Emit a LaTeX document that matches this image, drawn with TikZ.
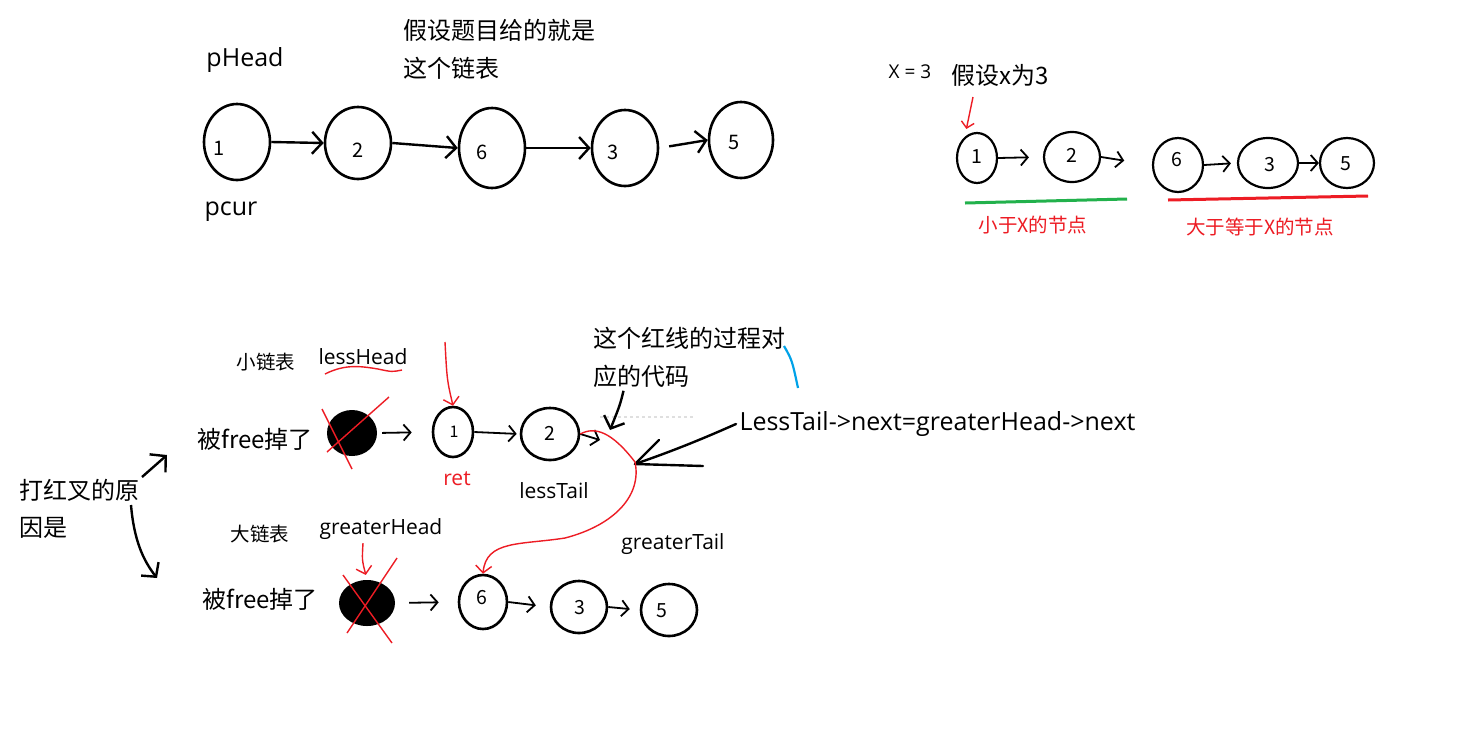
\documentclass[tikz,border=0pt]{standalone}
\usepackage{fontspec}
\setmainfont{Noto Sans CJK SC}
\newfontfamily\latinfont{Open Sans}
\usepackage{xcolor}
\usetikzlibrary{arrows.meta, shapes.geometric}
\definecolor{paintred}{RGB}{237,28,36}
\definecolor{paintgreen}{RGB}{34,177,76}
\definecolor{paintblue}{RGB}{0,162,232}

\begin{document}
\begin{tikzpicture}[x=1pt, y=-1pt,
  ring/.style={draw, ellipse, line width=2.6pt, inner sep=0pt},
  freed/.style={ellipse, fill=black, inner sep=0pt},
  big/.style={font=\fontsize{24}{28}\selectfont},
  mid/.style={font=\fontsize{19.5}{23}\selectfont},
  bigl/.style={font=\latinfont\fontsize{25}{29}\selectfont},
  midl/.style={font=\latinfont\fontsize{21}{25}\selectfont},
  num/.style={font=\fontsize{20}{24}\selectfont},
  link/.style={-{Straight Barb[length=10pt, width=22pt]}, line width=2.4pt},
  thinlink/.style={-{Straight Barb[length=7pt, width=16pt]}, line width=1.8pt},
  redpen/.style={paintred, line width=1.4pt}]
\fill[white] (0,0) rectangle (1483,732);
\useasboundingbox (0,0) rectangle (1483,732);

% the given list
\node[bigl] (phead) at (245,60) {pHead};
\node[bigl] (pcur) at (231,212) {pcur};
\node[big, anchor=west] (given1) at (400,30) {假设题目给的就是};
\node[big, anchor=west] (given2) at (400,68) {这个链表};
\node[ring, minimum width=66pt, minimum height=76pt] (a1) at (237,142) {};
\node[ring, minimum width=66pt, minimum height=72pt] (a2) at (358,143) {};
\node[ring, minimum width=66pt, minimum height=80pt] (a6) at (492,148) {};
\node[ring, minimum width=66pt, minimum height=76pt] (a3) at (625,148) {};
\node[ring, minimum width=64pt, minimum height=76pt] (a5) at (741,140) {};
\node[num] (a1n) at (219,148) {1};
\node[num] (a2n) at (358,150) {2};
\node[num] (a6n) at (482,152) {6};
\node[num] (a3n) at (613,152) {3};
\node[num] (a5n) at (734,142) {5};
\draw[link] (a1.east) -- (a2.west);
\draw[link] (a2.east) -- (a6.west);
\draw[link] (a6.east) -- (a3.west);
\draw[link, shorten <=10pt] (a3.east) -- (a5.west);

% split by x
\node[font=\latinfont\fontsize{19}{23}\selectfont] (xeq) at (910,72) {X = 3};
\node[big] (xnote) at (1000,75) {假设x为3};
\node[ring, line width=2.2pt, minimum width=40pt, minimum height=50pt] (b1) at (977,158) {};
\node[ring, line width=2.2pt, minimum width=56pt, minimum height=50pt] (b2) at (1072,157) {};
\node[ring, line width=2.2pt, minimum width=50pt, minimum height=54pt] (b6) at (1178,165) {};
\node[ring, line width=2.2pt, minimum width=60pt, minimum height=50pt] (b3) at (1268,163) {};
\node[ring, line width=2.2pt, minimum width=54pt, minimum height=50pt] (b5) at (1347,163) {};
\node[mid] (b1n) at (977,157) {1};
\node[mid] (b2n) at (1072,155) {2};
\node[mid] (b6n) at (1177,160) {6};
\node[mid] (b3n) at (1270,165) {3};
\node[mid] (b5n) at (1346,164) {5};
\draw[thinlink, shorten >=14pt] (b1.east) -- (b2.west);
\draw[thinlink, shorten >=28pt] (b2.east) -- (b6.west);
\draw[thinlink, shorten >=6pt] (b6.east) -- (b3.west);
\draw[thinlink] (b3.east) -- (b5.west);
\coordinate (xptr) at (973,97);
\draw[redpen, -{Straight Barb[length=6pt, width=13pt]}, shorten >=8pt] (xptr) -- (b1.120);
\draw[paintgreen, line width=3pt] (965,203) -- (1127,199);
\draw[paintred, line width=3pt] (1168,200) -- (1368,196);
\node[mid, text=paintred] (lesslabel) at (1033,225) {小于X的节点};
\node[mid, text=paintred] (greaterlabel) at (1260,227) {大于等于X的节点};

% reason for the crosses
\node[big, anchor=west] (why1) at (16,490) {打红叉的原};
\node[big, anchor=west] (why2) at (16,528) {因是};
\coordinate (upfrom) at (142,477);
\coordinate (upto) at (167,455);
\draw[-{Straight Barb[length=11pt, width=24pt]}, line width=2.4pt] (upfrom) -- (upto);
\coordinate (downfrom) at (131,505);
\coordinate (downto) at (157,578);
\draw[-{Straight Barb[length=10pt, width=22pt]}, line width=2.4pt] (downfrom) .. controls (134,540) and (143,560) .. (downto);

% small list
\node[mid] (smalltag) at (266,362) {小链表};
\node[midl] (lesshead) at (363,357) {lessHead};
\draw[redpen] (325,374) .. controls (345,364) and (360,366) .. (378,369) .. controls (392,372) .. (402,370);
\node[big] (freed1) at (255,439) {被free掉了};
\node[freed, minimum width=50pt, minimum height=46pt] (d1) at (352,433) {};
\draw[redpen] (322,409) -- (352,469);
\draw[redpen] (327,452) -- (389,397);
\node[ring, minimum width=40pt, minimum height=50pt] (c1) at (453,432) {};
\node[ring, minimum width=58pt, minimum height=52pt] (c2) at (550,434) {};
\node[font=\fontsize{16}{20}\selectfont] (c1n) at (454,432) {1};
\node[mid] (c2n) at (550,433) {2};
\draw[thinlink, shorten <=5pt, shorten >=20pt] (d1.east) -- (c1.west);
\draw[thinlink, shorten >=3pt] (c1.east) -- (c2.west);
\coordinate (c2out) at (600,440);
\draw[thinlink] (c2.east) -- (c2out);
\coordinate (retptr) at (445,342);
\draw[redpen, -{Straight Barb[length=7pt, width=16pt]}] (retptr) .. controls (447,380) .. (c1.north);
\node[midl, text=paintred] (ret) at (457,479) {ret};
\node[midl] (lesstail) at (554,491) {lessTail};

% note on the red line
\node[big, anchor=west] (note1) at (590,338) {这个红线的过程对};
\node[big, anchor=west] (note2) at (590,376) {应的代码};
\draw[paintblue, line width=2.2pt] (784,346) .. controls (792,360) .. (798,388);
\draw[gray!25, dashed, line width=1.5pt] (600,417) -- (693,417);
\coordinate (joint) at (610,430);
\draw[link] ([xshift=-18pt]note2.south) .. controls (620,405) .. (joint);
\node[bigl, anchor=west] (code) at (736,424) {LessTail->next=greaterHead->next};
\coordinate (codetip) at (635,464);
\draw[line width=2.4pt, line cap=round, line join=round] (code.west) .. controls (700,440) and (670,452) .. (codetip);
\draw[line width=2.4pt, line cap=round, line join=round] (659,440) -- (codetip) -- (703,466);
\node[midl] (greatertail) at (673,544) {greaterTail};

% big list
\node[mid] (bigtag) at (260,534) {大链表};
\node[midl] (greaterhead) at (381,529) {greaterHead};
\node[big] (freed2) at (260,599) {被free掉了};
\node[freed, minimum width=56pt, minimum height=46pt] (d2) at (367,603) {};
\draw[redpen] (343,575) -- (392,643);
\draw[redpen] (347,633) -- (397,558);
\draw[redpen, -{Straight Barb[length=7pt, width=16pt]}, shorten >=5pt] ([xshift=-18pt]greaterhead.south) .. controls (362,560) .. (d2.north);
\node[ring, minimum width=48pt, minimum height=54pt] (c6) at (483,602) {};
\node[ring, minimum width=56pt, minimum height=52pt] (c3) at (579,607) {};
\node[ring, minimum width=56pt, minimum height=52pt] (c5) at (669,610) {};
\node[mid] (c6n) at (482,598) {6};
\node[mid] (c3n) at (580,608) {3};
\node[mid] (c5n) at (662,611) {5};
\draw[thinlink, shorten <=14pt, shorten >=19pt] (d2.east) -- (c6.west);
\draw[thinlink, shorten >=14pt] (c6.east) -- (c3.west);
\draw[thinlink, shorten >=10pt] (c3.east) -- (c5.west);

% the red line
\draw[redpen, -{Straight Barb[length=7pt, width=16pt]}] (c2.east) .. controls (595,426) and (612,432) .. (635,462) .. controls (642,495) and (615,525) .. (565,538) .. controls (520,545) and (486,540) .. (c6.north);
\end{tikzpicture}
\end{document}
